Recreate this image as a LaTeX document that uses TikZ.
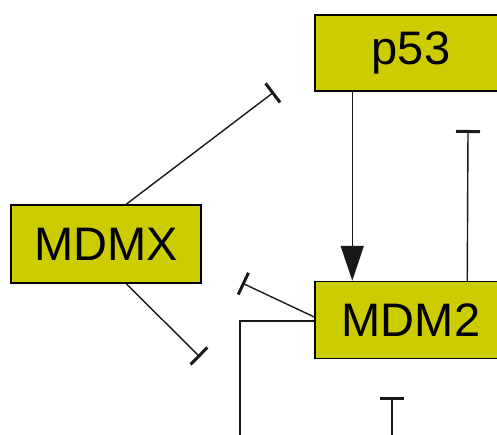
\documentclass[tikz,border=0pt]{standalone}
\usepackage{fontspec}
\setmainfont{Liberation Sans}
\usetikzlibrary{arrows.meta}
\definecolor{boxfill}{RGB}{204,204,0}
\begin{document}
\begin{tikzpicture}[x=1pt,y=-1pt,
  gene/.style={draw=black,line width=1.5pt,fill=boxfill,rectangle,inner sep=0pt,
    font=\fontsize{47}{50}\selectfont},
  link/.style={line width=1.4pt,draw=black!90},
  inhib/.style={link,-{Bar[width=24pt,line width=3pt]}},
  act/.style={link,-{Triangle[length=35pt,width=23pt]}}]
\clip (0,0) rectangle (497,434);
\useasboundingbox (0,0) rectangle (497,434);
\node[gene,minimum width=192pt,minimum height=76pt] (p53) at (411,53) {p53};
\node[gene,minimum width=192pt,minimum height=77pt] (MDM2) at (411,320) {MDM2};
\node[gene,minimum width=190pt,minimum height=78pt] (MDMX) at (106,244) {MDMX};
\coordinate (e1) at (468,130);
\coordinate (e2) at (274,92);
\coordinate (e3) at (200,357);
\coordinate (e4) at (242,283);
\coordinate (e5) at (240,440);
\coordinate (s6) at (392,440);
\coordinate (e6) at (392,397);
\draw[act] ([xshift=38pt]p53.south west) -- ([xshift=38pt]MDM2.north west);
\draw[inhib] ([xshift=153pt]MDM2.north west) -- (e1);
\draw[inhib] ([xshift=116pt]MDMX.north west) -- (e2);
\draw[inhib] ([xshift=116pt]MDMX.south west) -- (e3);
\draw[inhib] ([yshift=3pt]MDM2.west) -- (e4);
\draw[link] ([yshift=-1pt]MDM2.west) -| (e5);
\draw[inhib] (s6) -- (e6);
\end{tikzpicture}
\end{document}
